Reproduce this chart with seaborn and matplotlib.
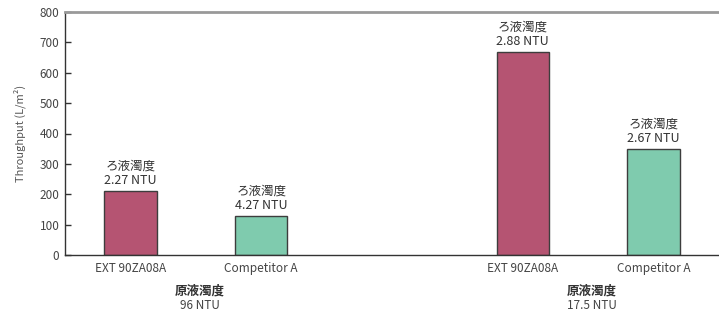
import matplotlib
matplotlib.use("Agg")
import matplotlib.pyplot as plt
import matplotlib.transforms as mtransforms
import seaborn as sns
import pandas as pd

# ---- data ----
groups = ["96 NTU", "17.5 NTU"]            # raw-water turbidity (原液濁度)
products = ["EXT 90ZA08A", "Competitor A"]
throughput = {                                # L/m2
    "EXT 90ZA08A": [210, 668],
    "Competitor A": [128, 349],
}
filtrate_ntu = {                              # ろ液濁度
    "EXT 90ZA08A": ["2.27", "2.88"],
    "Competitor A": ["4.27", "2.67"],
}
yticks = [0, 100, 200, 300, 400, 500, 600, 700, 800]

rows = []
for p in products:
    for g, v in zip(groups, throughput[p]):
        rows.append({"group": g, "product": p, "throughput": v})
df = pd.DataFrame(rows)

sns.set_style("white")
plt.rcParams["font.family"] = ["Liberation Sans Narrow", "Noto Sans CJK JP", "DejaVu Sans"]

fig = plt.figure(figsize=(7.19, 3.15), dpi=100)
ax = fig.add_axes([65 / 719, 1 - 255 / 315, 654 / 719, 243 / 315])

palette = {"EXT 90ZA08A": "#b55472", "Competitor A": "#7fcbae"}
sns.barplot(data=df, x="group", y="throughput", hue="product", order=groups,
            hue_order=products, palette=palette, width=2 / 3, gap=0.6,
            edgecolor="#3d3d3d", linewidth=1.0, saturation=1, legend=False,
            errorbar=None, ax=ax)

ax.set_xlim(-1 / 3, 4 / 3)
ax.set_ylim(0, 800)
ax.set_yticks(yticks)

# product labels under each bar
xpos = [i + d for i in range(len(groups)) for d in (-1 / 6, 1 / 6)]
xlabels = [p for _ in groups for p in products]
ax.set_xticks(xpos, labels=xlabels)
ax.set_xticks([0, 1 / 3, 2 / 3, 1], minor=True)
ax.tick_params(axis="x", which="major", length=0, pad=5, labelsize=8.5, labelcolor="#444444")
ax.tick_params(axis="x", which="minor", direction="in", length=5, width=1, color="#333333")
ax.tick_params(axis="y", direction="in", length=4, width=1, color="#333333",
               labelsize=8.5, labelcolor="#444444", pad=4, left=True)

ax.set_xlabel("")
ax.set_ylabel("Throughput (L/m²)", fontsize=8, color="#555555", labelpad=10)

for s in ["left", "bottom"]:
    ax.spines[s].set_color("#333333")
    ax.spines[s].set_linewidth(1)
ax.spines["top"].set_color("#999999")
ax.spines["top"].set_linewidth(2)
ax.spines["right"].set_visible(False)

# filtrate turbidity labels above bars
for cont, p in zip(ax.containers, products):
    labels = [f"ろ液濁度\n{t} NTU" for t in filtrate_ntu[p]]
    ax.bar_label(cont, labels=labels, padding=3, fontsize=9, color="#333333",
                 linespacing=1.15)

# raw-water turbidity labels under groups
trans = mtransforms.blended_transform_factory(ax.transData, ax.transAxes)
for i, g in enumerate(groups):
    ax.text(i + 0.01, -0.148, "原液濁度", transform=trans, ha="center", va="center",
            fontsize=9, color="#333333", fontweight="bold")
    ax.text(i + 0.01, -0.206, g, transform=trans, ha="center", va="center",
            fontsize=8.5, color="#444444")

fig.savefig("out.png", dpi=100)
